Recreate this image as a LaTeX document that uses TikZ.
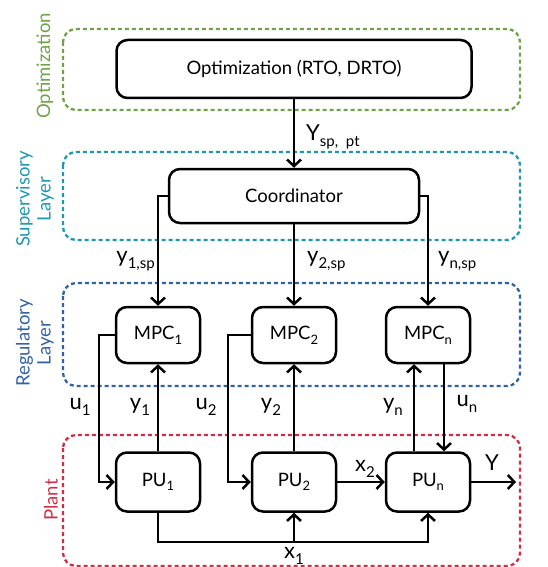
\documentclass[tikz,border=0pt]{standalone}
\usepackage{fontspec}
\setmainfont{Lato}
\usetikzlibrary{arrows.meta}

\definecolor{optgreen}{RGB}{112,163,72}
\definecolor{supteal}{RGB}{30,152,178}
\definecolor{regblue}{RGB}{48,98,166}
\definecolor{plantred}{RGB}{210,45,70}

% subscript set in the text font
\newcommand{\lowidx}[1]{\raisebox{-0.5ex}{\fontsize{15}{15}\selectfont #1}}
\newcommand{\boxidx}[1]{\raisebox{-0.5ex}{\fontsize{13}{13}\selectfont #1}}

\begin{document}
\begin{tikzpicture}[x=1pt,y=-1pt,
  font=\fontsize{18.5}{22}\selectfont,
  blk/.style={draw, line width=2.5pt, rounded corners=11pt, inner sep=0pt},
  layer/.style={line width=2.3pt, rounded corners=13pt, dash pattern=on 4pt off 3pt},
  arr/.style={line width=2.5pt, -{Straight Barb[length=6.5pt,width=14pt,line width=2.5pt]}},
  sig/.style={font=\fontsize{22}{24}\selectfont, inner sep=1pt},
  tag/.style={font=\fontsize{18.5}{21}\selectfont, rotate=90, align=center, inner sep=0pt}]
\useasboundingbox (0,0) rectangle (547,567);

% layer frames
\draw[layer, optgreen] (63,29) rectangle (520,110);
\draw[layer, supteal] (63,152) rectangle (520,240);
\draw[layer, regblue] (63,283) rectangle (520,386);
\draw[layer, plantred] (63,435) rectangle (520,566);

\node[tag, text=optgreen] (tOpt) at (45,66) {Optimization};
\node[tag, text=supteal] (tSup) at (35,199) {Supervisory\\Layer};
\node[tag, text=regblue] (tReg) at (35,343) {Regulatory\\Layer};
\node[tag, text=plantred] (tPlant) at (51,500) {Plant};

% blocks
\node[blk, minimum width=355pt, minimum height=58pt] (opt) at (294,69) {Optimization (RTO, DRTO)};
\node[blk, minimum width=250pt, minimum height=54pt] (coord) at (294,196) {Coordinator};

\node[blk, minimum width=84pt, minimum height=56pt] (mpc1) at (158,335) {MPC\boxidx{1}};
\node[blk, minimum width=84pt, minimum height=56pt] (mpc2) at (294,335) {MPC\boxidx{2}};
\node[blk, minimum width=84pt, minimum height=56pt] (mpcn) at (428,335) {MPC\boxidx{n}};

\node[blk, minimum width=84pt, minimum height=59pt] (pu1) at (158,482) {PU\boxidx{1}};
\node[blk, minimum width=84pt, minimum height=59pt] (pu2) at (294,482) {PU\boxidx{2}};
\node[blk, minimum width=84pt, minimum height=59pt] (pun) at (428,482) {PU\boxidx{n}};

\coordinate (yout) at (516,482);
\coordinate (x1bus) at (294,542);

% optimization to coordinator
\draw[arr] (opt.south) -- (coord.north);

% coordinator to controllers
\draw[arr] (coord.west) -| (mpc1.north);
\draw[arr] (coord.south) -- (mpc2.north);
\draw[arr] (coord.east) -| (mpcn.north);

% controller loops
\draw[arr] (mpc1.west) -- ++(-16,0) |- (pu1.west);
\draw[arr] (pu1.north) -- (mpc1.south);
\draw[arr] (mpc2.west) -- ++(-23,0) |- (pu2.west);
\draw[arr] (pu2.north) -- (mpc2.south);
\draw[arr] ([xshift=-14pt]pun.north) -- ([xshift=-14pt]mpcn.south);
\draw[arr] ([xshift=16pt]mpcn.south) -- ([xshift=16pt]pun.north);

% plant flows
\draw[arr] (pu2.east) -- (pun.west);
\draw[arr] (pun.east) -- (yout);
\draw[arr] (pu1.south) |- (x1bus) -| (pun.south);
\draw[arr] (x1bus) -- (pu2.south);

% signal labels
\node[sig, anchor=west] (lYsp) at (305,137) {Y\lowidx{sp,~~pt}};
\node[sig, anchor=east] (ly1sp) at (156,261) {y\lowidx{1,sp}};
\node[sig, anchor=west] (ly2sp) at (306,261) {y\lowidx{2,sp}};
\node[sig, anchor=west] (lynsp) at (437,261) {y\lowidx{n,sp}};
\node[sig] (lu1) at (80,407) {u\lowidx{1}};
\node[sig] (ly1) at (140,407) {y\lowidx{1}};
\node[sig] (lu2) at (206,407) {u\lowidx{2}};
\node[sig] (ly2) at (271,407) {y\lowidx{2}};
\node[sig] (lyn) at (393,407) {y\lowidx{n}};
\node[sig] (lun) at (467,404) {u\lowidx{n}};
\node[sig] (lx2) at (365,469) {x\lowidx{2}};
\node[sig] (lY) at (492,463) {Y};
\node[sig] (lx1) at (294,556) {x\lowidx{1}};
\end{tikzpicture}
\end{document}
